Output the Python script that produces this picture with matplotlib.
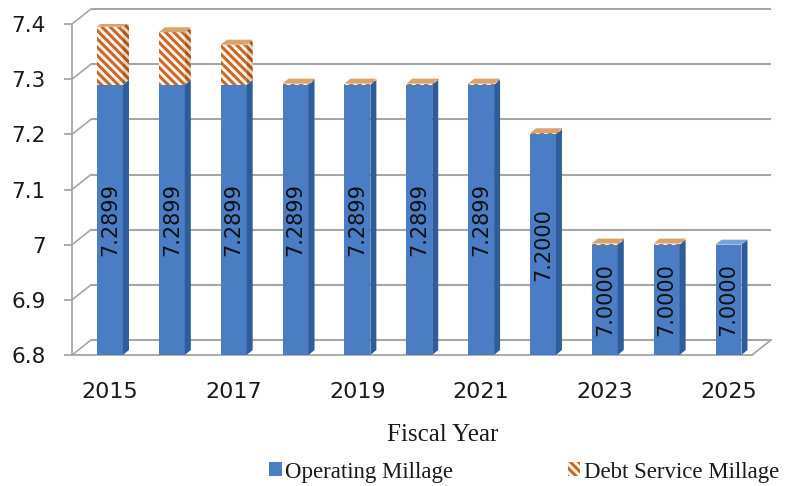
import matplotlib
matplotlib.use('Agg')
import matplotlib.pyplot as plt
import numpy as np

# ---- data ----
years = [2015, 2016, 2017, 2018, 2019, 2020, 2021, 2022, 2023, 2024, 2025]
operating = [7.2899, 7.2899, 7.2899, 7.2899, 7.2899, 7.2899, 7.2899, 7.2000, 7.0000, 7.0000, 7.0000]
debt = [0.1051, 0.0951, 0.0726, 0.002, 0.002, 0.002, 0.002, 0.002, 0.002, 0.002, 0.0]
year_ticks = [2015, 2017, 2019, 2021, 2023, 2025]
y_ticks = [6.8, 6.9, 7.0, 7.1, 7.2, 7.3, 7.4]
y_tick_labels = ['6.8', '6.9', '7', '7.1', '7.2', '7.3', '7.4']
series_names = ['Operating Millage', 'Debt Service Millage']
x_title = 'Fiscal Year'

# ---- styles ----
FRONT_BLUE = '#4A7DC4'
SIDE_BLUE = '#2F5C9A'
TOP_BLUE = '#7AA3DA'
HATCH_FACE = '#FFF6EC'
HATCH_EDGE = '#C8692A'
SIDE_HATCH_FACE = '#EBD3B6'
TOP_DEBT = '#D9A46C'
GRID = '#A6A6A6'
HATCH = '\\\\\\\\'

plt.rcParams['hatch.linewidth'] = 2.2

W, H = 787, 486
fig = plt.figure(figsize=(W / 100, H / 100), dpi=100)
ax_l, ax_r, ax_b, ax_t = 72, 752, 355, 24
ax = fig.add_axes([ax_l / W, 1 - ax_b / H, (ax_r - ax_l) / W, (ax_b - ax_t) / H])
xlim = (-0.614, 10.38)
ylim = (6.8, 7.4)
ax.set_xlim(*xlim)
ax.set_ylim(*ylim)

sx = (xlim[1] - xlim[0]) / (ax_r - ax_l)   # data units per pixel (x)
sy = (ylim[1] - ylim[0]) / (ax_b - ax_t)   # data units per pixel (y)

x = np.arange(len(years))
w = 0.42
op = np.array(operating)
db = np.array(debt)

b1 = ax.bar(x, op, width=w, color=FRONT_BLUE, zorder=3, linewidth=0)
b2 = ax.bar(x, db, bottom=op, width=w, color=HATCH_FACE, edgecolor=HATCH_EDGE,
            hatch=HATCH, linewidth=0, zorder=3)

# 3D depth faces of the bars
ddx, ddy = 6 * sx, 5 * sy
y0 = ylim[0]
for i in range(len(x)):
    x0, x1 = x[i] - w / 2, x[i] + w / 2
    t_op = op[i]
    t = op[i] + db[i]
    ax.fill([x1, x1 + ddx, x1 + ddx, x1], [y0, y0 + ddy, t_op + ddy, t_op],
            color=SIDE_BLUE, zorder=3, linewidth=0)
    if db[i] > 0:
        ax.fill([x1, x1 + ddx, x1 + ddx, x1], [t_op, t_op + ddy, t + ddy, t],
                facecolor=SIDE_HATCH_FACE, edgecolor='#A8551E', hatch=HATCH,
                zorder=3, linewidth=0)
    ax.fill([x0, x1, x1 + ddx, x0 + ddx], [t, t, t + ddy, t + ddy],
            color=TOP_DEBT if db[i] > 0 else TOP_BLUE, zorder=3, linewidth=0)
    ax.text(x[i], (y0 + op[i]) / 2, f'{op[i]:.4f}', rotation=90, ha='center',
            va='center', fontsize=15, color='#111111', zorder=5)

# back wall gridlines and floor
dxw, dyw = 19 * sx, 15 * sy
for v in y_ticks:
    ax.plot([xlim[0] + dxw, xlim[1] + dxw], [v + dyw, v + dyw], color=GRID,
            lw=1.5, zorder=1, clip_on=False, solid_capstyle='butt')
    ax.plot([xlim[0], xlim[0] + dxw], [v, v + dyw], color=GRID, lw=1.2,
            zorder=1, clip_on=False)
ax.plot([xlim[1], xlim[1] + dxw], [y0, y0 + dyw], color=GRID, lw=1.3,
        zorder=1, clip_on=False)

for s in ['top', 'right']:
    ax.spines[s].set_visible(False)
for s in ['left', 'bottom']:
    ax.spines[s].set_color(GRID)
    ax.spines[s].set_linewidth(1.3)

ax.set_yticks(y_ticks)
ax.set_yticklabels(y_tick_labels)
ax.set_xticks([years.index(y) for y in year_ticks])
ax.set_xticklabels([str(y) for y in year_ticks])
ax.tick_params(axis='y', direction='out', length=6, width=1.3, color=GRID,
               labelsize=15.5, pad=13, labelcolor='#1a1a1a')
ax.tick_params(axis='x', length=0, labelsize=16, pad=19.5, labelcolor='#1a1a1a')
ax.patch.set_visible(False)

fig.text(443 / W, 1 - 435 / H, x_title, ha='center', va='center',
         family='Liberation Serif', fontsize=18, color='#1a1a1a')

fig.legend([b1, b2], series_names, loc='center',
           bbox_to_anchor=(524 / W, 1 - 472 / H), ncol=2, frameon=False,
           prop={'family': 'Liberation Serif', 'size': 16.5},
           handlelength=0.55, handleheight=0.55, handletextpad=0.15,
           columnspacing=5.0, labelcolor='#1a1a1a')

fig.savefig('out.png', dpi=100, facecolor='white')
